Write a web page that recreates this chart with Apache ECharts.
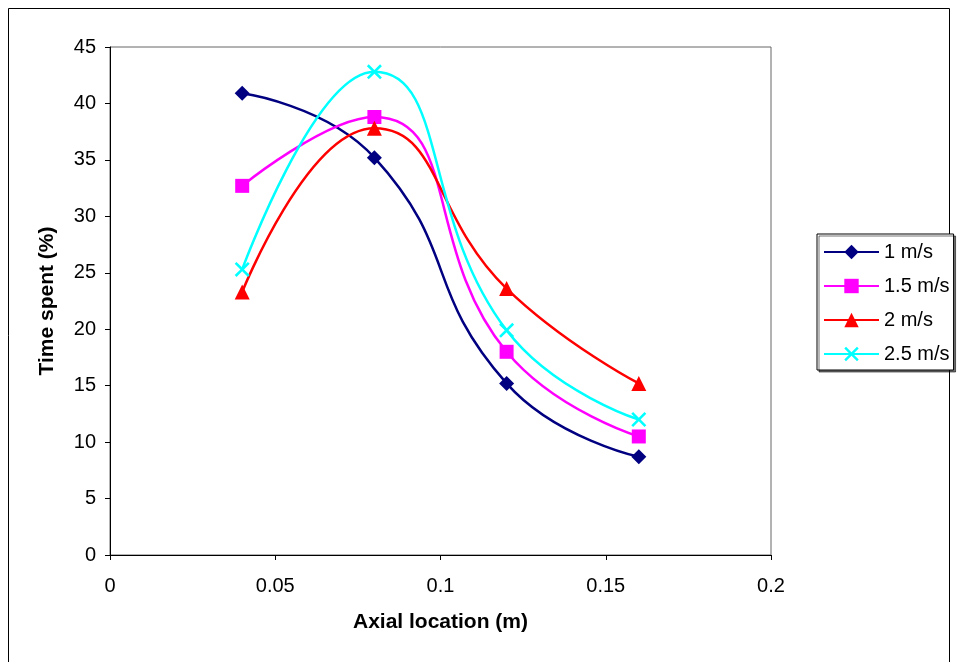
<!DOCTYPE html>
<html><head><meta charset="utf-8">
<script src="https://cdn.jsdelivr.net/npm/echarts@6/dist/echarts.min.js"></script>
<style>html,body{margin:0;padding:0;background:#fff}#c{width:959px;height:662px}</style>
</head><body><div id="c"></div>
<script>
const xPositions = [0.04, 0.08, 0.12, 0.16];
const seriesNames = ['1 m/s', '1.5 m/s', '2 m/s', '2.5 m/s'];
const v1 = [40.9, 35.2, 15.2, 8.7];
const v15 = [32.7, 38.8, 18.0, 10.5];
const v2 = [23.3, 37.8, 23.6, 15.2];
const v25 = [25.3, 42.8, 19.9, 12.0];
const yTicks = [0, 5, 10, 15, 20, 25, 30, 35, 40, 45];
const xTicks = [0, 0.05, 0.1, 0.15, 0.2];

const font = 'Liberation Sans, Arial, sans-serif';
const xShape = 'path://M0,1.2L1.2,0L5,3.8L8.8,0L10,1.2L6.2,5L10,8.8L8.8,10L5,6.2L1.2,10L0,8.8L3.8,5Z';
const styles = [
  {color: '#000080', symbol: 'diamond', size: 15},
  {color: '#FF00FF', symbol: 'rect', size: 14},
  {color: '#FF0000', symbol: 'triangle', size: 15},
  {color: '#00FFFF', symbol: xShape, size: 15}
];
const allVals = [v1, v15, v2, v25];
const chart = echarts.init(document.getElementById('c'), null, {renderer: 'canvas'});
chart.setOption({
  animation: false,
  backgroundColor: '#fff',
  graphic: [{type: 'rect', shape: {x: 8.5, y: 8.5, width: 941, height: 670}, style: {fill: 'none', stroke: '#000', lineWidth: 1}, silent: true}],
  grid: {left: 110, top: 47, right: 188, bottom: 107, show: true, borderColor: '#666', borderWidth: 1, backgroundColor: 'transparent'},
  xAxis: {
    type: 'value', min: xTicks[0], max: xTicks[xTicks.length - 1], interval: 0.05,
    name: 'Axial location (m)', nameLocation: 'middle', nameGap: 57,
    nameTextStyle: {fontFamily: font, fontSize: 21, fontWeight: 'bold', color: '#000'},
    axisLine: {show: true, onZero: false, lineStyle: {color: '#000', width: 1}},
    axisTick: {show: true, inside: false, length: 5, lineStyle: {color: '#000'}},
    axisLabel: {fontFamily: font, fontSize: 20, color: '#000', margin: 21, formatter: v => String(+v.toFixed(2))},
    splitLine: {show: false}
  },
  yAxis: {
    type: 'value', min: yTicks[0], max: yTicks[yTicks.length - 1], interval: 5,
    name: 'Time spent (%)', nameLocation: 'middle', nameGap: 52, nameRotate: 90,
    nameTextStyle: {fontFamily: font, fontSize: 21, fontWeight: 'bold', color: '#000'},
    axisLine: {show: true, onZero: false, lineStyle: {color: '#000', width: 1}},
    axisTick: {show: true, inside: false, length: 5, lineStyle: {color: '#000'}},
    axisLabel: {fontFamily: font, fontSize: 20, color: '#000', margin: 14},
    splitLine: {show: false}
  },
  legend: {
    orient: 'vertical', left: 817, top: 234,
    data: seriesNames,
    backgroundColor: '#fff', borderColor: '#000', borderWidth: 1,
    padding: [8, 4, 6, 6],
    shadowColor: 'rgba(0,0,0,0.55)', shadowOffsetX: 2, shadowOffsetY: 2, shadowBlur: 0,
    itemWidth: 55, itemHeight: 18, itemGap: 14,
    textStyle: {fontFamily: font, fontSize: 20, color: '#000'}
  },
  series: seriesNames.map((n, i) => ({
    name: n, type: 'line', smooth: 0.5,
    data: xPositions.map((x, j) => [x, allVals[i][j]]),
    symbol: styles[i].symbol, symbolSize: styles[i].size, showSymbol: true,
    lineStyle: {color: styles[i].color, width: 2.5},
    itemStyle: {color: styles[i].color, borderWidth: 0},
    z: 2 + i
  }))
});
</script></body></html>
